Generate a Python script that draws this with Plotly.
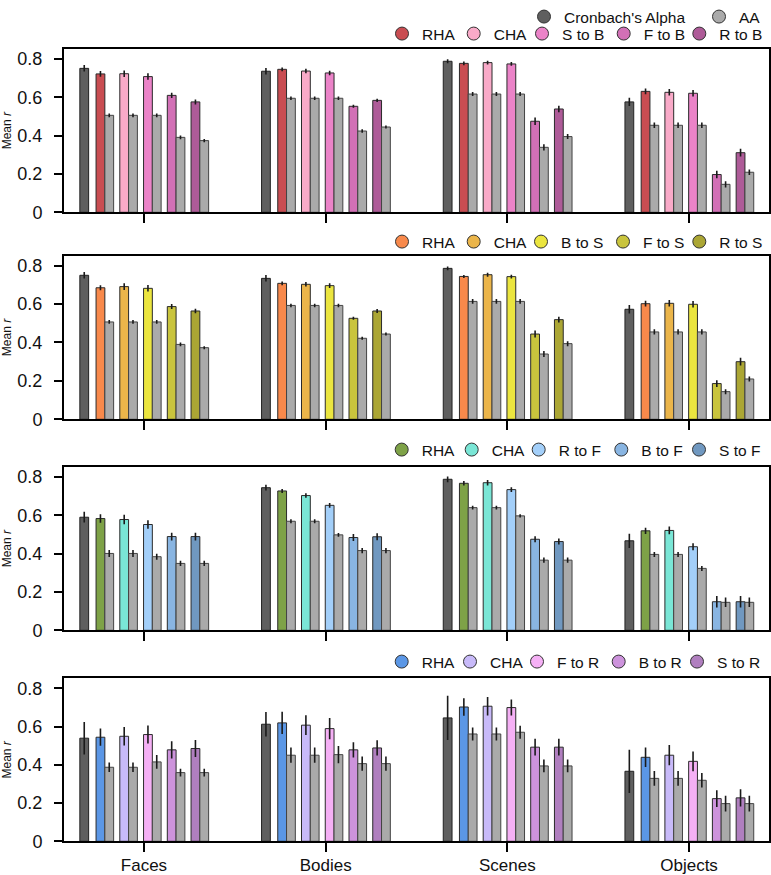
import plotly.graph_objects as go

CATEGORIES = ["Faces", "Bodies", "Scenes", "Objects"]
Y_TICKS = [0, 0.2, 0.4, 0.6, 0.8]
Y_TICK_LABELS = ["0", "0.2", "0.4", "0.6", "0.8"]
ALPHA_LABEL = "Cronbach's Alpha"
AA_LABEL = "AA"

# ---------------- Panel 1 (Bodies targets) ----------------
P1_LABELS = ["RHA", "CHA", "S to B", "F to B", "R to B"]
P1_ALPHA = [0.751, 0.736, 0.788, 0.576]
P1_ALPHA_ERR = [0.017, 0.017, 0.010, 0.022]
P1_MODEL = [
    [0.722, 0.746, 0.777, 0.631],
    [0.723, 0.737, 0.781, 0.626],
    [0.708, 0.727, 0.774, 0.621],
    [0.610, 0.553, 0.475, 0.197],
    [0.576, 0.584, 0.539, 0.311],
]
P1_MODEL_ERR = [
    [0.015, 0.010, 0.010, 0.015],
    [0.017, 0.012, 0.010, 0.017],
    [0.017, 0.012, 0.010, 0.017],
    [0.014, 0.008, 0.020, 0.020],
    [0.013, 0.008, 0.017, 0.020],
]
P1_AA = [
    [0.506, 0.595, 0.617, 0.454],
    [0.506, 0.595, 0.617, 0.454],
    [0.506, 0.595, 0.617, 0.454],
    [0.391, 0.424, 0.339, 0.146],
    [0.374, 0.445, 0.395, 0.209],
]
P1_AA_ERR = [
    [0.010, 0.009, 0.010, 0.014],
    [0.010, 0.009, 0.010, 0.014],
    [0.010, 0.009, 0.010, 0.014],
    [0.010, 0.009, 0.016, 0.016],
    [0.008, 0.008, 0.013, 0.014],
]

# ---------------- Panel 2 (Scenes targets) ----------------
P2_LABELS = ["RHA", "CHA", "B to S", "F to S", "R to S"]
P2_ALPHA = [0.750, 0.734, 0.786, 0.573]
P2_ALPHA_ERR = [0.017, 0.017, 0.010, 0.022]
P2_MODEL = [
    [0.685, 0.708, 0.744, 0.602],
    [0.691, 0.703, 0.753, 0.604],
    [0.682, 0.696, 0.743, 0.599],
    [0.587, 0.526, 0.444, 0.186],
    [0.564, 0.564, 0.519, 0.300],
]
P2_MODEL_ERR = [
    [0.013, 0.010, 0.008, 0.015],
    [0.017, 0.012, 0.010, 0.017],
    [0.017, 0.012, 0.010, 0.017],
    [0.013, 0.008, 0.018, 0.018],
    [0.012, 0.010, 0.015, 0.020],
]
P2_AA = [
    [0.507, 0.593, 0.614, 0.455],
    [0.507, 0.593, 0.614, 0.455],
    [0.507, 0.593, 0.614, 0.455],
    [0.390, 0.422, 0.340, 0.144],
    [0.373, 0.444, 0.394, 0.210],
]
P2_AA_ERR = [
    [0.010, 0.009, 0.012, 0.014],
    [0.010, 0.009, 0.012, 0.014],
    [0.010, 0.009, 0.012, 0.014],
    [0.010, 0.008, 0.016, 0.013],
    [0.008, 0.008, 0.013, 0.013],
]

# ---------------- Panel 3 (Faces targets) ----------------
P3_LABELS = ["RHA", "CHA", "R to F", "B to F", "S to F"]
P3_ALPHA = [0.590, 0.744, 0.788, 0.467]
P3_ALPHA_ERR = [0.028, 0.015, 0.015, 0.037]
P3_MODEL = [
    [0.583, 0.727, 0.767, 0.519],
    [0.578, 0.703, 0.770, 0.521],
    [0.552, 0.652, 0.734, 0.436],
    [0.489, 0.484, 0.475, 0.149],
    [0.489, 0.488, 0.463, 0.149],
]
P3_MODEL_ERR = [
    [0.022, 0.010, 0.012, 0.016],
    [0.025, 0.012, 0.014, 0.020],
    [0.022, 0.012, 0.012, 0.018],
    [0.020, 0.018, 0.016, 0.030],
    [0.020, 0.018, 0.016, 0.030],
]
P3_AA = [
    [0.401, 0.569, 0.640, 0.396],
    [0.401, 0.569, 0.640, 0.396],
    [0.384, 0.498, 0.597, 0.323],
    [0.349, 0.416, 0.366, 0.146],
    [0.349, 0.416, 0.366, 0.146],
]
P3_AA_ERR = [
    [0.018, 0.010, 0.010, 0.013],
    [0.018, 0.010, 0.010, 0.013],
    [0.016, 0.010, 0.008, 0.013],
    [0.014, 0.014, 0.014, 0.025],
    [0.014, 0.014, 0.014, 0.025],
]

# ---------------- Panel 4 (Objects targets) ----------------
P4_LABELS = ["RHA", "CHA", "F to R", "B to R", "S to R"]
P4_ALPHA = [0.539, 0.612, 0.645, 0.366]
P4_ALPHA_ERR = [0.085, 0.064, 0.116, 0.113]
P4_MODEL = [
    [0.544, 0.619, 0.702, 0.439],
    [0.549, 0.607, 0.706, 0.450],
    [0.558, 0.589, 0.699, 0.418],
    [0.478, 0.478, 0.492, 0.223],
    [0.485, 0.488, 0.492, 0.227],
]
P4_MODEL_ERR = [
    [0.045, 0.058, 0.046, 0.051],
    [0.048, 0.052, 0.048, 0.053],
    [0.047, 0.055, 0.042, 0.052],
    [0.045, 0.040, 0.044, 0.044],
    [0.045, 0.040, 0.044, 0.045],
]
P4_AA = [
    [0.387, 0.450, 0.561, 0.329],
    [0.387, 0.450, 0.561, 0.329],
    [0.415, 0.453, 0.570, 0.319],
    [0.359, 0.406, 0.394, 0.197],
    [0.359, 0.406, 0.394, 0.197],
]
P4_AA_ERR = [
    [0.025, 0.040, 0.034, 0.038],
    [0.025, 0.040, 0.034, 0.038],
    [0.036, 0.045, 0.034, 0.038],
    [0.020, 0.037, 0.033, 0.041],
    [0.020, 0.037, 0.033, 0.041],
]

# ---------------- Styling ----------------
ALPHA_COLOR = "#5f5f5f"
AA_COLOR = "#aaaaaa"
P1_COLORS = ["#c94d52", "#f9aac8", "#eb83c8", "#d270b6", "#ae5b98"]
P2_COLORS = ["#f8894b", "#ebb54a", "#ebe53f", "#c9c43d", "#aba634"]
P3_COLORS = ["#7ea247", "#7ae6d6", "#a3cff9", "#89b5e2", "#7098c0"]
P4_COLORS = ["#5b97e6", "#c8baf9", "#f5b0f5", "#cd93dc", "#b07fbf"]

PANELS = [
    (P1_LABELS, P1_COLORS, P1_ALPHA, P1_ALPHA_ERR, P1_MODEL, P1_MODEL_ERR, P1_AA, P1_AA_ERR),
    (P2_LABELS, P2_COLORS, P2_ALPHA, P2_ALPHA_ERR, P2_MODEL, P2_MODEL_ERR, P2_AA, P2_AA_ERR),
    (P3_LABELS, P3_COLORS, P3_ALPHA, P3_ALPHA_ERR, P3_MODEL, P3_MODEL_ERR, P3_AA, P3_AA_ERR),
    (P4_LABELS, P4_COLORS, P4_ALPHA, P4_ALPHA_ERR, P4_MODEL, P4_MODEL_ERR, P4_AA, P4_AA_ERR),
]

# ---------------- Layout constants (pixels) ----------------
W, H = 771, 875
FONT = "Liberation Sans, Arial, Helvetica, sans-serif"
BAR_W = 0.0484
ALPHA_OFF = -0.3528
FIRST_OFF = -0.2636
PAIR_STEP = 0.1307
PANEL_PX = [(49, 212.3), (255.7, 419.3), (467, 630.3), (678.3, 841.3)]
LEGEND_Y_PX = [34, 242, 450, 662]
LEGEND_END_PX = [
    [456, 527.7, 605, 685.7, 763.3],
    [456, 527.7, 604, 685, 763.3],
    [455.7, 525.7, 601.7, 683.3, 761],
    [455.7, 524, 600, 682.7, 761],
]
TOP_LEGEND_END_PX = [686, 761]
X0_PX, X1_PX = 64, 769

fig = go.Figure()
legends = {}
leg_common = dict(orientation="h", xanchor="right", yanchor="middle",
                  font=dict(size=15.5, family=FONT, color="#111111"),
                  bgcolor="rgba(0,0,0,0)", borderwidth=0, itemclick=False,
                  itemdoubleclick=False, tracegroupgap=0)


def err(arr, thick=1.6):
    return dict(type="data", array=arr, visible=True, color="#1a1a1a",
                thickness=thick, width=0)


def add_legend_entry(name, color, end_px, y_px=None, top=False):
    lid = "legend" if not legends else f"legend{len(legends) + 1}"
    fig.add_trace(go.Scatter(
        x=[None], y=[None], mode="markers", name=name,
        marker=dict(symbol="circle", size=13, color=color,
                    line=dict(color="#333333", width=1)),
        legend=lid, showlegend=True))
    if top:
        legends[lid] = dict(leg_common, x=(end_px + 5) / W, y=1, yanchor="top")
    else:
        legends[lid] = dict(leg_common, x=(end_px + 5) / W, y=1 - y_px / H)


for i, (labels, colors, alpha, alpha_err, model, model_err, aa, aa_err) in enumerate(PANELS):
    n = i + 1
    xa = "x" if n == 1 else f"x{n}"
    ya = "y" if n == 1 else f"y{n}"
    fig.add_trace(go.Bar(
        x=CATEGORIES, y=alpha, xaxis=xa, yaxis=ya, width=BAR_W, offset=ALPHA_OFF,
        marker=dict(color=ALPHA_COLOR, line=dict(color="#222222", width=1)),
        error_y=err(alpha_err), showlegend=False, name=ALPHA_LABEL))
    for k in range(5):
        off = FIRST_OFF + k * PAIR_STEP
        fig.add_trace(go.Bar(
            x=CATEGORIES, y=model[k], xaxis=xa, yaxis=ya, width=BAR_W, offset=off,
            marker=dict(color=colors[k], line=dict(color="#2a2a2a", width=1)),
            error_y=err(model_err[k]), showlegend=False, name=labels[k]))
        fig.add_trace(go.Bar(
            x=CATEGORIES, y=aa[k], xaxis=xa, yaxis=ya, width=BAR_W, offset=off + BAR_W,
            marker=dict(color=AA_COLOR, line=dict(color="#444444", width=1)),
            error_y=err(aa_err[k]), showlegend=False, name=AA_LABEL))

# top legend row: Cronbach's Alpha and AA
add_legend_entry(ALPHA_LABEL, ALPHA_COLOR, TOP_LEGEND_END_PX[0], top=True)
add_legend_entry(AA_LABEL, AA_COLOR, TOP_LEGEND_END_PX[1], top=True)
# per-panel legend rows
for i, (labels, colors, *_rest) in enumerate(PANELS):
    for k in range(5):
        add_legend_entry(labels[k], colors[k], LEGEND_END_PX[i][k], y_px=LEGEND_Y_PX[i])

layout = dict(
    width=W, height=H, margin=dict(l=0, r=0, t=0, b=0, autoexpand=False),
    paper_bgcolor="white", plot_bgcolor="white",
    barmode="overlay", font=dict(family=FONT, color="#111111"),
)

for i, (top, bot) in enumerate(PANEL_PX):
    n = i + 1
    xk = "xaxis" if n == 1 else f"xaxis{n}"
    yk = "yaxis" if n == 1 else f"yaxis{n}"
    ya = "y" if n == 1 else f"y{n}"
    xa = "x" if n == 1 else f"x{n}"
    layout[xk] = dict(
        domain=[X0_PX / W, X1_PX / W], anchor=ya, type="category",
        categoryorder="array", categoryarray=CATEGORIES,
        range=[-0.44, 3.44], showline=True, linecolor="black", linewidth=2, mirror=True,
        ticks="outside", ticklen=9, tickwidth=2, tickcolor="black",
        showticklabels=(n == 4), tickfont=dict(size=17, family=FONT, color="#111111"),
        ticklabelstandoff=-2,
        showgrid=False, zeroline=False, fixedrange=True, automargin=False,
    )
    layout[yk] = dict(
        domain=[1 - bot / H, 1 - top / H], anchor=xa,
        range=[0, 0.852], tickmode="array", tickvals=Y_TICKS, ticktext=Y_TICK_LABELS,
        showline=True, linecolor="black", linewidth=2, mirror=True,
        ticks="outside", ticklen=8, tickwidth=2, tickcolor="black",
        tickfont=dict(size=18, family=FONT, color="#111111"), ticklabelstandoff=8,
        title=dict(text="Mean <i>r</i>", font=dict(size=12, family=FONT, color="#111111"), standoff=4),
        automargin=False, showgrid=False, zeroline=False, fixedrange=True,
    )

layout.update(legends)
fig.update_layout(**layout)
fig.write_html("out.html", config={"displayModeBar": False},
               post_script="document.body.style.margin='0px';")
